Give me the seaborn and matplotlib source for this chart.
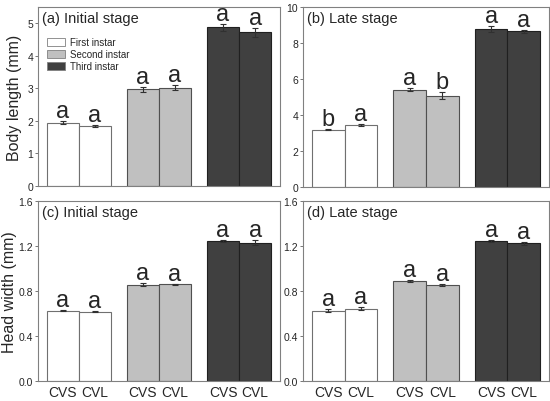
import matplotlib
matplotlib.use("Agg")
import matplotlib.pyplot as plt
import numpy as np
import pandas as pd
import seaborn as sns
from matplotlib.patches import Patch

# %% data
instars = ["First instar", "Second instar", "Third instar"]
treatments = ["CVS", "CVL"]

# (a) body length, initial stage
bl_init = [1.94, 1.83, 2.97, 3.02, 4.88, 4.73]
bl_init_se = [0.05, 0.03, 0.08, 0.08, 0.11, 0.14]
bl_init_lab = ["a", "a", "a", "a", "a", "a"]

# (b) body length, late stage
bl_late = [3.17, 3.43, 5.40, 5.07, 8.77, 8.64]
bl_late_se = [0.03, 0.04, 0.10, 0.19, 0.18, 0.10]
bl_late_lab = ["b", "a", "a", "b", "a", "a"]

# (c) head width, initial stage
hw_init = [0.623, 0.614, 0.856, 0.859, 1.240, 1.228]
hw_init_se = [0.004, 0.005, 0.010, 0.006, 0.008, 0.020]
hw_init_lab = ["a", "a", "a", "a", "a", "a"]

# (d) head width, late stage
hw_late = [0.625, 0.643, 0.891, 0.855, 1.244, 1.223]
hw_late_se = [0.010, 0.012, 0.008, 0.008, 0.010, 0.012]
hw_late_lab = ["a", "a", "a", "a", "a", "a"]

colors = ["#ffffff", "#c0c0c0", "#404040"]

# %%
sns.set_theme(style="white")
plt.rcParams["font.family"] = ["Liberation Sans", "DejaVu Sans"]


def make_df(vals, se, labs):
    rows = []
    i = 0
    for inst in instars:
        for t in treatments:
            rows.append({"instar": inst, "treatment": t, "value": vals[i],
                         "se": se[i], "lab": labs[i]})
            i += 1
    return pd.DataFrame(rows)


def panel(ax, vals, se, labs, ylim, yticks, yfmt, title, ylabel, xlab,
          legend=False, labx=-0.07):
    df = make_df(vals, se, labs)
    sns.barplot(data=df, x="instar", y="value", hue="treatment", order=instars,
                hue_order=treatments, errorbar=None, width=0.8, ax=ax, legend=False,
                edgecolor="#505050", linewidth=0.8)
    # recolour bars by instar, add error bars + letters
    bars = sorted(ax.patches, key=lambda p: p.get_x())
    for k, b in enumerate(bars):
        b.set_facecolor(colors[k // 2])
        if k < 2:
            b.set_edgecolor("#707070")
        elif k >= 4:
            b.set_edgecolor("#202020")
        xc = b.get_x() + b.get_width() / 2
        v = df["value"].iloc[k]
        e = df["se"].iloc[k]
        ax.errorbar(xc, v, yerr=e, color="#303030", capsize=2, elinewidth=0.8,
                    capthick=0.8, fmt="none")
        ax.text(xc, v + e + ylim[1] * 0.022, df["lab"].iloc[k], ha="center",
                va="baseline", fontsize=17)
    ax.set_xlim(-0.51, 2.51)
    ax.set_ylim(*ylim)
    ax.set_yticks(yticks)
    ax.set_yticklabels([yfmt.format(t) for t in yticks], fontsize=7.5)
    if xlab:
        ax.set_xticks([-0.2, 0.2, 0.8, 1.2, 1.8, 2.2])
        ax.set_xticklabels(treatments * 3, fontsize=10)
    else:
        ax.set_xticks([])
    ax.set_xlabel("")
    ax.set_ylabel(ylabel, fontsize=11.5)
    ax.yaxis.set_label_coords(labx, 0.5)
    ax.tick_params(axis="y", length=2.5, width=0.6, pad=1, left=True, color="#606060")
    ax.tick_params(axis="x", length=0, pad=3)
    for s in ax.spines.values():
        s.set_color("#808080")
        s.set_linewidth(0.8)
    ax.text(0.017, 0.978, title, transform=ax.transAxes, ha="left", va="top", fontsize=10.5)
    if legend:
        handles = [Patch(facecolor=c, edgecolor="#808080", linewidth=0.6) for c in colors]
        ax.legend(handles, instars, loc="upper left", bbox_to_anchor=(0.005, 0.875),
                  frameon=False, fontsize=7, handlelength=1.9, handleheight=0.9,
                  labelspacing=0.2, handletextpad=0.5, borderaxespad=0.4)


fig = plt.figure(figsize=(5.5, 4.02), dpi=100)
ax_a = fig.add_axes([0.069, 0.535, 0.44, 0.445])
ax_b = fig.add_axes([0.551, 0.533, 0.447, 0.447])
ax_c = fig.add_axes([0.069, 0.050, 0.44, 0.448])
ax_d = fig.add_axes([0.551, 0.050, 0.447, 0.448])

panel(ax_a, bl_init, bl_init_se, bl_init_lab, (0, 5.5), [0, 1, 2, 3, 4, 5], "{:.0f}",
      "(a) Initial stage", "Body length (mm)", False, legend=True, labx=-0.065)
panel(ax_b, bl_late, bl_late_se, bl_late_lab, (0, 10), [0, 2, 4, 6, 8, 10], "{:.0f}",
      "(b) Late stage", "", False)
panel(ax_c, hw_init, hw_init_se, hw_init_lab, (0, 1.6), [0, 0.4, 0.8, 1.2, 1.6], "{:.1f}",
      "(c) Initial stage", "Head width (mm)", True, labx=-0.085)
panel(ax_d, hw_late, hw_late_se, hw_late_lab, (0, 1.6), [0, 0.4, 0.8, 1.2, 1.6], "{:.1f}",
      "(d) Late stage", "", True)

fig.savefig("out.png", dpi=100)
